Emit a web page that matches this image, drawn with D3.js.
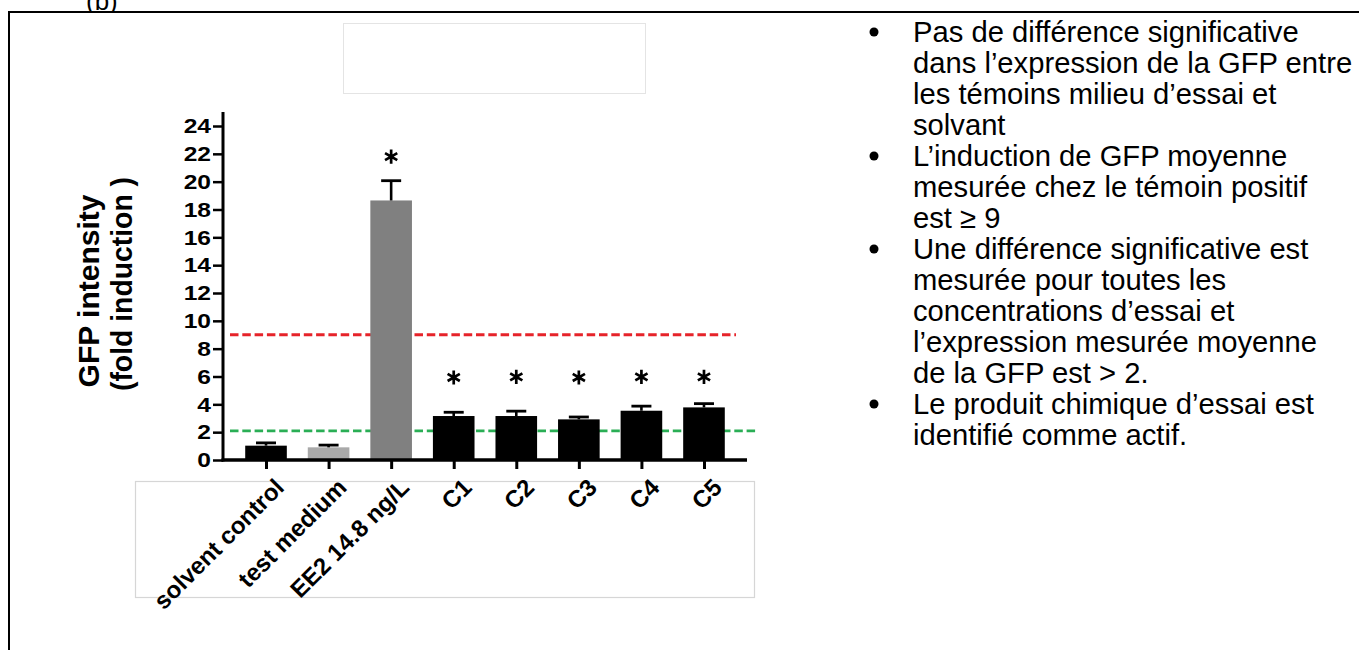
<!DOCTYPE html>
<html>
<head>
<meta charset="utf-8">
<script src="https://cdn.jsdelivr.net/npm/d3@7"></script>
<style>
  html, body { margin: 0; padding: 0; background: #fff; }
  svg { display: block; }
  text { font-family: "Liberation Sans", Arial, sans-serif; }
</style>
</head>
<body>
<svg id="chart" width="1359" height="650"></svg>
<script>
// ---------- data ----------
const categories = ["solvent control", "test medium", "EE2 14.8 ng/L", "C1", "C2", "C3", "C4", "C5"];
const means      = [1.03, 0.91, 18.65, 3.16, 3.16, 2.92, 3.54, 3.78];
const errors     = [0.20, 0.16, 1.42, 0.27, 0.35, 0.17, 0.33, 0.27];
const barColors  = ["#000000", "#a9a9a9", "#808080", "#000000", "#000000", "#000000", "#000000", "#000000"];
const starLevels = [null, null, 21.8, 5.93, 5.97, 5.93, 5.97, 5.97];
const yTicks     = [0, 2, 4, 6, 8, 10, 12, 14, 16, 18, 20, 22, 24];
const yMax       = 25;
const thresholdPositive = 9;   // red dashed
const thresholdActive   = 2.1; // green dashed
const yTitle = ["GFP intensity", "(fold induction )"];
const panelLabel = "(b)";
const bullets = [
  ["Pas de différence significative", "dans l’expression de la GFP entre", "les témoins milieu d’essai et", "solvant"],
  ["L’induction de GFP moyenne", "mesurée chez le témoin positif", "est ≥ 9"],
  ["Une différence significative est", "mesurée pour toutes les", "concentrations d’essai et", "l’expression mesurée moyenne", "de la GFP est > 2."],
  ["Le produit chimique d’essai est", "identifié comme actif."]
];

// ---------- layout ----------
const svg = d3.select("#chart");
const plot = { left: 223, right: 747, top: 112, bottom: 460 };

// frame + decorative boxes
svg.append("text").attr("x", 86).attr("y", 10).attr("font-size", 26).text(panelLabel);
svg.append("rect").attr("x", 0).attr("y", 12).attr("width", 1359).attr("height", 638).attr("fill", "#fff");
svg.append("path").attr("d", "M9,650 V12 H1359").attr("fill", "none").attr("stroke", "#000").attr("stroke-width", 2);
svg.append("rect").attr("x", 343.5).attr("y", 23.5).attr("width", 302).attr("height", 70)
  .attr("fill", "#fff").attr("stroke", "#e4e4e4").attr("stroke-width", 1);
svg.append("rect").attr("x", 135.5).attr("y", 481.5).attr("width", 619).attr("height", 116)
  .attr("fill", "#fff").attr("stroke", "#d6d6d6").attr("stroke-width", 1.2);

// scales
const y = d3.scaleLinear().domain([0, 24]).range([460, 126]);
const x = d3.scalePoint().domain(categories).range([plot.left, plot.right]).padding(0.6875);
const barW = x.step() * 0.665;

const g = svg.append("g");

// reference lines
g.append("line").attr("x1", 230).attr("x2", 736)
  .attr("y1", y(thresholdPositive)).attr("y2", y(thresholdPositive))
  .attr("stroke", "#e6232a").attr("stroke-width", 2.8).attr("stroke-dasharray", "8.5,3.8");
g.append("line").attr("x1", 230).attr("x2", 757)
  .attr("y1", y(thresholdActive)).attr("y2", y(thresholdActive))
  .attr("stroke", "#2aae55").attr("stroke-width", 2.8).attr("stroke-dasharray", "8.5,3.8");

// bars
const data = categories.map((c, i) => ({ c, m: means[i], e: errors[i], col: barColors[i], s: starLevels[i] }));
g.selectAll("rect.bar").data(data).join("rect").attr("class", "bar")
  .attr("x", d => x(d.c) - barW / 2).attr("width", barW)
  .attr("y", d => y(d.m)).attr("height", d => y(0) - y(d.m))
  .attr("fill", d => d.col);

// error bars
const capW = 20;
g.selectAll("line.err").data(data).join("line").attr("class", "err")
  .attr("x1", d => x(d.c)).attr("x2", d => x(d.c))
  .attr("y1", d => y(d.m)).attr("y2", d => y(d.m + d.e))
  .attr("stroke", "#000").attr("stroke-width", 2.6);
g.selectAll("line.cap").data(data).join("line").attr("class", "cap")
  .attr("x1", d => x(d.c) - capW / 2).attr("x2", d => x(d.c) + capW / 2)
  .attr("y1", d => y(d.m + d.e)).attr("y2", d => y(d.m + d.e))
  .attr("stroke", "#000").attr("stroke-width", 2.8);

// significance asterisks
const star = d3.symbol().type(d3.symbolAsterisk).size(140);
g.selectAll("path.star").data(data.filter(d => d.s !== null)).join("path").attr("class", "star")
  .attr("transform", d => `translate(${x(d.c)},${y(d.s)})`)
  .attr("d", star).attr("fill", "none").attr("stroke", "#000").attr("stroke-width", 2.7);

// y axis
const yAxis = g.append("g").attr("transform", `translate(${plot.left},0)`)
  .call(d3.axisLeft(y).tickValues(yTicks).tickSize(10).tickSizeOuter(0).tickPadding(0));
yAxis.select(".domain").remove();
yAxis.append("line").attr("x1", 0).attr("x2", 0).attr("y1", y(0) + 1.5).attr("y2", y(yMax))
  .attr("stroke", "#000").attr("stroke-width", 3);
yAxis.selectAll(".tick line").attr("stroke", "#000").attr("stroke-width", 2.5);
yAxis.selectAll(".tick text")
  .attr("x", -12 / 1.17).attr("transform", "scale(1.17,1)")
  .attr("fill", "#000").attr("font-size", 21).attr("font-weight", "bold")
  .attr("font-family", "'Liberation Sans', Arial, sans-serif");

// x axis
const xAxis = g.append("g").attr("transform", `translate(0,${y(0)})`)
  .call(d3.axisBottom(x).tickSize(9).tickSizeOuter(0));
xAxis.select(".domain").remove();
xAxis.append("line").attr("x1", plot.left - 1.5).attr("x2", plot.right).attr("y1", 0).attr("y2", 0)
  .attr("stroke", "#000").attr("stroke-width", 3.5);
xAxis.selectAll(".tick line").attr("stroke", "#000").attr("stroke-width", 3);
xAxis.selectAll(".tick text")
  .attr("x", null).attr("y", null).attr("dy", null)
  .attr("text-anchor", "end")
  .attr("transform", "translate(19,29) rotate(-45)")
  .attr("fill", "#000").attr("font-size", 24).attr("font-weight", "bold")
  .attr("font-family", "'Liberation Sans', Arial, sans-serif");

// y title
const yt = svg.append("g").attr("transform", "translate(0,288)");
yTitle.forEach((t, i) => {
  const tt = yt.append("text").attr("transform", `translate(${99 + i * 33},${i ? -4 : 3}) rotate(-90)`)
    .attr("text-anchor", "middle").attr("font-size", 30).attr("font-weight", "bold").text(t);
  if (i === 1) tt.attr("textLength", 214).attr("lengthAdjust", "spacingAndGlyphs");
});

// bullet text on the right
const tx = svg.append("g");
let line = 0;
const base0 = 42, lh = 31;
bullets.forEach(b => {
  tx.append("circle").attr("cx", 874).attr("cy", base0 + line * lh - 10).attr("r", 4.5).attr("fill", "#000");
  b.forEach(s => {
    tx.append("text").attr("x", 913).attr("y", base0 + line * lh).attr("font-size", 29.2).attr("fill", "#000").text(s);
    line++;
  });
});
</script>
</body>
</html>
